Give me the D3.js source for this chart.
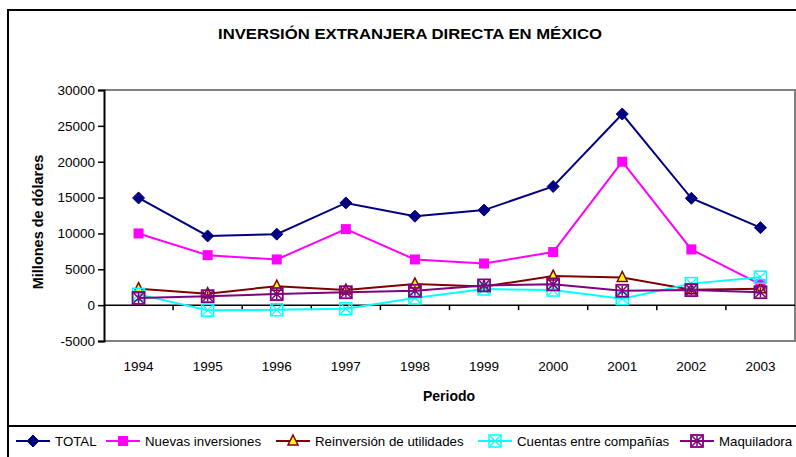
<!DOCTYPE html>
<html>
<head>
<meta charset="utf-8">
<script src="https://cdn.jsdelivr.net/npm/d3@7"></script>
<style>
  body { margin: 0; background: #fff; }
  text { font-family: "Liberation Sans", Arial, sans-serif; fill: #000; }
</style>
</head>
<body>
<div id="chart"></div>
<script>
// data
var years = ["1994", "1995", "1996", "1997", "1998", "1999", "2000", "2001", "2002", "2003"];
var total = [14950, 9650, 9900, 14250, 12400, 13250, 16550, 26650, 14900, 10800];
var nuevas = [10000, 6970, 6370, 10600, 6370, 5810, 7400, 20000, 7770, 2900];
var reinversion = [2300, 1600, 2650, 2100, 2950, 2600, 4050, 3850, 2150, 2300];
var cuentas = [1500, -700, -650, -500, 1000, 2250, 2100, 900, 3000, 3900];
var maquiladora = [1000, 1250, 1550, 1800, 2000, 2750, 2900, 2000, 2100, 1800];
var yTicks = [-5000, 0, 5000, 10000, 15000, 20000, 25000, 30000];

var series = [
  {name: "TOTAL", values: total, color: "#000080", marker: "diamond"},
  {name: "Nuevas inversiones", values: nuevas, color: "#ff00ff", marker: "square"},
  {name: "Reinversión de utilidades", values: reinversion, color: "#800000", marker: "triangle"},
  {name: "Cuentas entre compañías", values: cuentas, color: "#00ffff", marker: "xbox"},
  {name: "Maquiladora", values: maquiladora, color: "#800080", marker: "starbox"}
];

var W = 796, H = 457;
var svg = d3.select("#chart").append("svg")
  .attr("width", W).attr("height", H);

// outer frame
svg.append("path")
  .attr("d", "M8,457 V10 H796")
  .attr("fill", "none").attr("stroke", "#000").attr("stroke-width", 2);
svg.append("line")
  .attr("x1", 8).attr("x2", 796).attr("y1", 426).attr("y2", 426)
  .attr("stroke", "#000").attr("stroke-width", 2);

// title
svg.append("text")
  .attr("x", 410).attr("y", 39)
  .attr("text-anchor", "middle")
  .style("font-size", "15.5px").style("font-weight", "bold")
  .attr("textLength", 384).attr("lengthAdjust", "spacingAndGlyphs")
  .text("INVERSIÓN EXTRANJERA DIRECTA EN MÉXICO");

var plot = {left: 104, right: 795, top: 90, bottom: 341};

var x = d3.scaleBand().domain(years).range([plot.left, plot.right]);
var y = d3.scaleLinear().domain([-5000, 30000]).range([plot.bottom, plot.top]);

// plot area border (gray)
svg.append("path")
  .attr("d", "M" + plot.left + "," + plot.top + " H" + plot.right + " V" + plot.bottom + " H" + plot.left)
  .attr("fill", "none").attr("stroke", "#808080").attr("stroke-width", 2);

// y axis
var yAxis = svg.append("g")
  .attr("transform", "translate(" + plot.left + ",0)")
  .call(d3.axisLeft(y).tickValues(yTicks).tickSize(6).tickPadding(3)
    .tickFormat(function(d) { return String(d); }));
yAxis.select(".domain").attr("stroke", "#000").attr("stroke-width", 2);
yAxis.selectAll(".tick line").attr("stroke", "#000").attr("stroke-width", 1.5);
yAxis.selectAll(".tick text").style("font-size", "13.5px").attr("font-family", null);

// x axis at zero
var xAxis = svg.append("g")
  .attr("transform", "translate(0," + y(0) + ")");
xAxis.append("line")
  .attr("x1", plot.left).attr("x2", plot.right)
  .attr("stroke", "#000").attr("stroke-width", 1.5);
xAxis.selectAll(".tk")
  .data(years.slice(1))
  .enter().append("line")
  .attr("x1", function(d) { return x(d); })
  .attr("x2", function(d) { return x(d); })
  .attr("y1", 0).attr("y2", 5)
  .attr("stroke", "#000").attr("stroke-width", 1.5);

// x labels below plot
svg.selectAll(".xlab")
  .data(years)
  .enter().append("text")
  .attr("x", function(d) { return x(d) + x.bandwidth() / 2; })
  .attr("y", 371)
  .attr("text-anchor", "middle")
  .style("font-size", "13.5px")
  .text(function(d) { return d; });

// axis titles
svg.append("text")
  .attr("transform", "translate(43,222) rotate(-90)")
  .attr("text-anchor", "middle")
  .style("font-size", "14.5px").style("font-weight", "bold")
  .text("Millones de dólares");

svg.append("text")
  .attr("x", 449).attr("y", 401)
  .attr("text-anchor", "middle")
  .style("font-size", "14px").style("font-weight", "bold")
  .text("Periodo");

// markers
function drawMarker(g, type, color) {
  if (type == "diamond") {
    g.append("path").attr("d", "M0,-6 L6,0 L0,6 L-6,0 Z")
      .attr("fill", color).attr("stroke", color).attr("stroke-width", 1);
  } else if (type == "square") {
    g.append("rect").attr("x", -5).attr("y", -5).attr("width", 10).attr("height", 10)
      .attr("fill", color);
  } else if (type == "triangle") {
    g.append("path").attr("d", "M0,-6 L5,4 L-5,4 Z")
      .attr("fill", "#ffff00").attr("stroke", color).attr("stroke-width", 1.5);
  } else if (type == "xbox") {
    g.append("rect").attr("x", -6).attr("y", -6).attr("width", 12).attr("height", 12)
      .attr("fill", "none").attr("stroke", color).attr("stroke-width", 1.5);
    g.append("path").attr("d", "M-5,-5 L5,5 M5,-5 L-5,5")
      .attr("stroke", color).attr("stroke-width", 1.2);
  } else if (type == "starbox") {
    g.append("rect").attr("x", -6).attr("y", -6).attr("width", 12).attr("height", 12)
      .attr("fill", "none").attr("stroke", color).attr("stroke-width", 1.8);
    g.append("path").attr("d", "M-5,-5 L5,5 M5,-5 L-5,5 M0,-5 L0,5")
      .attr("stroke", color).attr("stroke-width", 1.5);
  }
}

var line = d3.line()
  .x(function(d, i) { return x(years[i]) + x.bandwidth() / 2; })
  .y(function(d) { return y(d); });

series.forEach(function(s) {
  svg.append("path")
    .datum(s.values)
    .attr("d", line)
    .attr("fill", "none")
    .attr("stroke", s.color)
    .attr("stroke-width", 2);
  s.values.forEach(function(v, i) {
    var g = svg.append("g")
      .attr("transform", "translate(" + (x(years[i]) + x.bandwidth() / 2) + "," + y(v) + ")");
    drawMarker(g, s.marker, s.color);
  });
});

// legend
var legendX = [16, 106, 276, 478, 680];
var legend = svg.selectAll(".legend")
  .data(series)
  .enter().append("g")
  .attr("transform", function(d, i) { return "translate(" + legendX[i] + ",441)"; });

legend.append("line")
  .attr("x1", 0).attr("x2", 34)
  .attr("stroke", function(d) { return d.color; })
  .attr("stroke-width", 2);
legend.each(function(d) {
  var g = d3.select(this).append("g").attr("transform", "translate(17,0)");
  drawMarker(g, d.marker, d.color);
});
legend.append("text")
  .attr("x", 39).attr("y", 5)
  .style("font-size", "13.3px")
  .text(function(d) { return d.name; });
</script>
</body>
</html>
